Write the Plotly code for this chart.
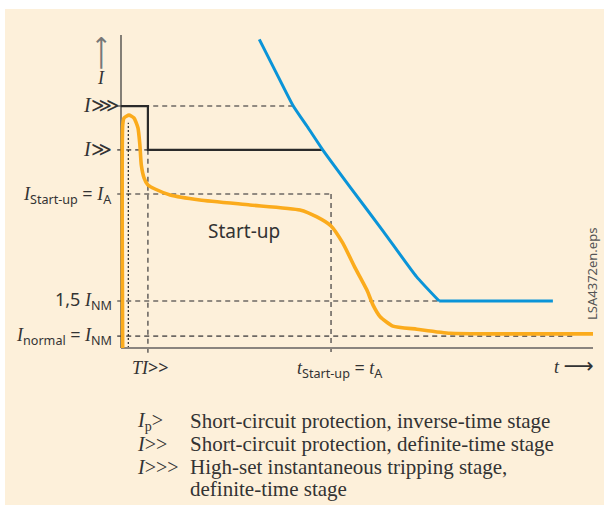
import plotly.graph_objects as go

# ---------------- data (chart units: time t 0..100, current I 0..100) -------------
level_names = ["I>>>", "I>>", "I_A", "1.5 I_NM", "I_NM"]
level_values = [77.3, 63.3, 49.2, 15.0, 3.8]
level_line_end = [36.5, 5.7, 44.5, 67.4, 95.8]

time_names = ["T_Ip", "TI>>", "t_A"]
time_values = [1.55, 5.7, 44.5]

# inverse-time stage Ip> (blue)
inverse_t = [29.3, 32.6, 36.5, 39.7, 42.7, 48.5, 55.6, 62.6, 67.4, 91.5]
inverse_i = [98.6, 88.8, 77.3, 70.2, 63.4, 51.5, 37.2, 22.8, 15.0, 15.0]

# definite-time stages I>>> / I>> (black)
definite_t = [0.0, 5.7, 5.7, 42.7]
definite_i = [77.3, 77.3, 63.3, 63.3]

# motor start-up current (orange)
motor_t = [0.36, 0.36, 0.64, 1.69, 2.75, 3.6, 4.0, 4.3, 4.9, 5.7, 7.2, 10.4, 16.7,
           27.3, 37.9, 41.5, 44.5, 47.0, 49.6, 52.1, 53.4, 54.9, 57.6, 62.7, 69.7,
           80.3, 100.0]
motor_i = [0.0, 71.2, 73.5, 74.4, 73.5, 70.3, 64.9, 58.5, 54.3, 52.1, 50.8, 48.9, 47.3,
           45.7, 44.1, 41.9, 39.0, 33.5, 25.6, 18.5, 13.7, 10.0, 7.0, 6.0, 4.7,
           4.5, 4.5]

# ---------------- layout helpers ----------------
W, H = 604, 505
X0PX, Y0PX = 121, 348          # pixel position of origin
SX, SY = 4.72, 3.13            # pixels per chart unit
x_range = [-X0PX / SX, (W - X0PX) / SX]
y_range = [-(H - Y0PX) / SY, Y0PX / SY]

SERIF = "Liberation Serif"
SANS = "Noto Sans"
TXT = "#333333"
CREAM = "#fdf0da"
DASH_C = "#6d6864"


def sans(s):
    return f"<span style='font-family:{SANS}'>{s}</span>"


def px(xp):
    return xp / W


def py(yp):
    return 1 - yp / H


fig = go.Figure()

# dashed helper lines built from levels/times
dx, dy = [], []
for v, e in zip(level_values, level_line_end):
    dx += [-0.8, e, None]
    dy += [v, v, None]
dx += [time_values[1], time_values[1], None, time_values[2], time_values[2]]
dy += [level_values[1], -2.0, None, level_values[2], -2.0]
fig.add_trace(go.Scatter(x=dx, y=dy, mode="lines",
                         line=dict(color=DASH_C, width=1.6, dash="5px,4px"),
                         hoverinfo="skip"))
# dotted vertical
fig.add_trace(go.Scatter(x=[time_values[0], time_values[0]], y=[0, 72], mode="lines",
                         line=dict(color="#222222", width=1.2, dash="2px,2px"),
                         hoverinfo="skip"))
# axes
fig.add_trace(go.Scatter(x=[0, 100], y=[0, 0], mode="lines",
                         line=dict(color="#8a847e", width=2), hoverinfo="skip"))
fig.add_trace(go.Scatter(x=[0, 0], y=[0, 100], mode="lines",
                         line=dict(color="#333333", width=1.2), hoverinfo="skip"))
# definite time step
fig.add_trace(go.Scatter(x=definite_t, y=definite_i, mode="lines",
                         line=dict(color="#2a2a2a", width=2.2), hoverinfo="skip"))
# inverse time: curved part + straight plateau
fig.add_trace(go.Scatter(x=inverse_t[:-1], y=inverse_i[:-1], mode="lines",
                         line=dict(color="#0a94d8", width=3, shape="spline", smoothing=0.5),
                         hoverinfo="skip"))
fig.add_trace(go.Scatter(x=inverse_t[-2:], y=inverse_i[-2:], mode="lines",
                         line=dict(color="#0a94d8", width=3), hoverinfo="skip"))
# motor current
fig.add_trace(go.Scatter(x=motor_t, y=motor_i, mode="lines",
                         line=dict(color="#fbab1c", width=3.6, shape="spline", smoothing=0.5),
                         hoverinfo="skip"))

ann = []


def add(text, x, y, size=17, xanchor="left", yanchor="middle", family=SERIF, color=TXT, angle=0):
    ann.append(dict(text=text, x=px(x), y=py(y), xref="paper", yref="paper",
                    showarrow=False, xanchor=xanchor, yanchor=yanchor, textangle=angle,
                    font=dict(family=family, size=size, color=color)))


# y axis arrow and label
add("⟶", 101, 53, size=24, xanchor="center", family="DejaVu Sans", color="#777777", angle=-90)
add("<i>I</i>", 101, 78, size=18, xanchor="center")
# level labels
add("<i>I</i>⋙", 81, 105, size=20)
add("<i>I</i>≫", 81, 149, size=20)
add("<i>I</i><sub>" + sans("Start-up") + "</sub> " + sans("=") + " <i>I</i><sub>" + sans("A") + "</sub>",
    114, 194, size=18, xanchor="right")
add(sans("1,5") + " <i>I</i><sub>" + sans("NM") + "</sub>", 114, 300, size=18, xanchor="right")
add("<i>I</i><sub>" + sans("normal") + "</sub> " + sans("=") + " <i>I</i><sub>" + sans("NM") + "</sub>",
    114, 335, size=18, xanchor="right")
# x labels
add("<i>TI</i>" + sans("&gt;&gt;"), 150, 367, size=18, xanchor="center")
add("<i>t</i><sub>" + sans("Start-up") + "</sub> " + sans("=") + " <i>t</i><sub>" + sans("A") + "</sub>",
    340, 368, size=18, xanchor="center")
add("<i>t</i> " + "<span style='font-family:DejaVu Sans;font-size:21px'>⟶</span>", 596, 366,
    size=18, xanchor="right")
# inner label
add(sans("Start-up"), 244, 231, size=19, xanchor="center")
# file tag
add("LSA4372en.eps", 592, 274, size=13, xanchor="center", family=SANS, color="#555555", angle=-90)

# legend text
leg_lab = ["<i>I</i><sub>p</sub>&gt;", "<i>I</i>&gt;&gt;", "<i>I</i>&gt;&gt;&gt;", ""]
leg_txt = ["Short-circuit protection, inverse-time stage",
           "Short-circuit protection, definite-time stage",
           "High-set instantaneous tripping stage,",
           "definite-time stage"]
leg_y = [421, 444, 467, 489]
for lab, t, yy in zip(leg_lab, leg_txt, leg_y):
    if lab:
        add(lab, 135, yy, size=20)
    add(t, 188, yy, size=21)

fig.update_layout(
    width=W, height=H, margin=dict(l=0, r=0, t=0, b=0, pad=0),
    paper_bgcolor=CREAM, plot_bgcolor=CREAM, showlegend=False,
    xaxis=dict(range=x_range, visible=False, fixedrange=True),
    yaxis=dict(range=y_range, visible=False, fixedrange=True),
    annotations=ann,
    shapes=[
        dict(type="rect", xref="paper", yref="paper", x0=0, x1=5 / W, y0=0, y1=1,
             fillcolor="white", line=dict(width=0), layer="below"),
        dict(type="rect", xref="paper", yref="paper", x0=0, x1=1, y0=1 - 9 / H, y1=1,
             fillcolor="white", line=dict(width=0), layer="below"),
    ],
)

fig.write_html("out.html", config={"displayModeBar": False},
               post_script="document.body.style.margin='0';")
